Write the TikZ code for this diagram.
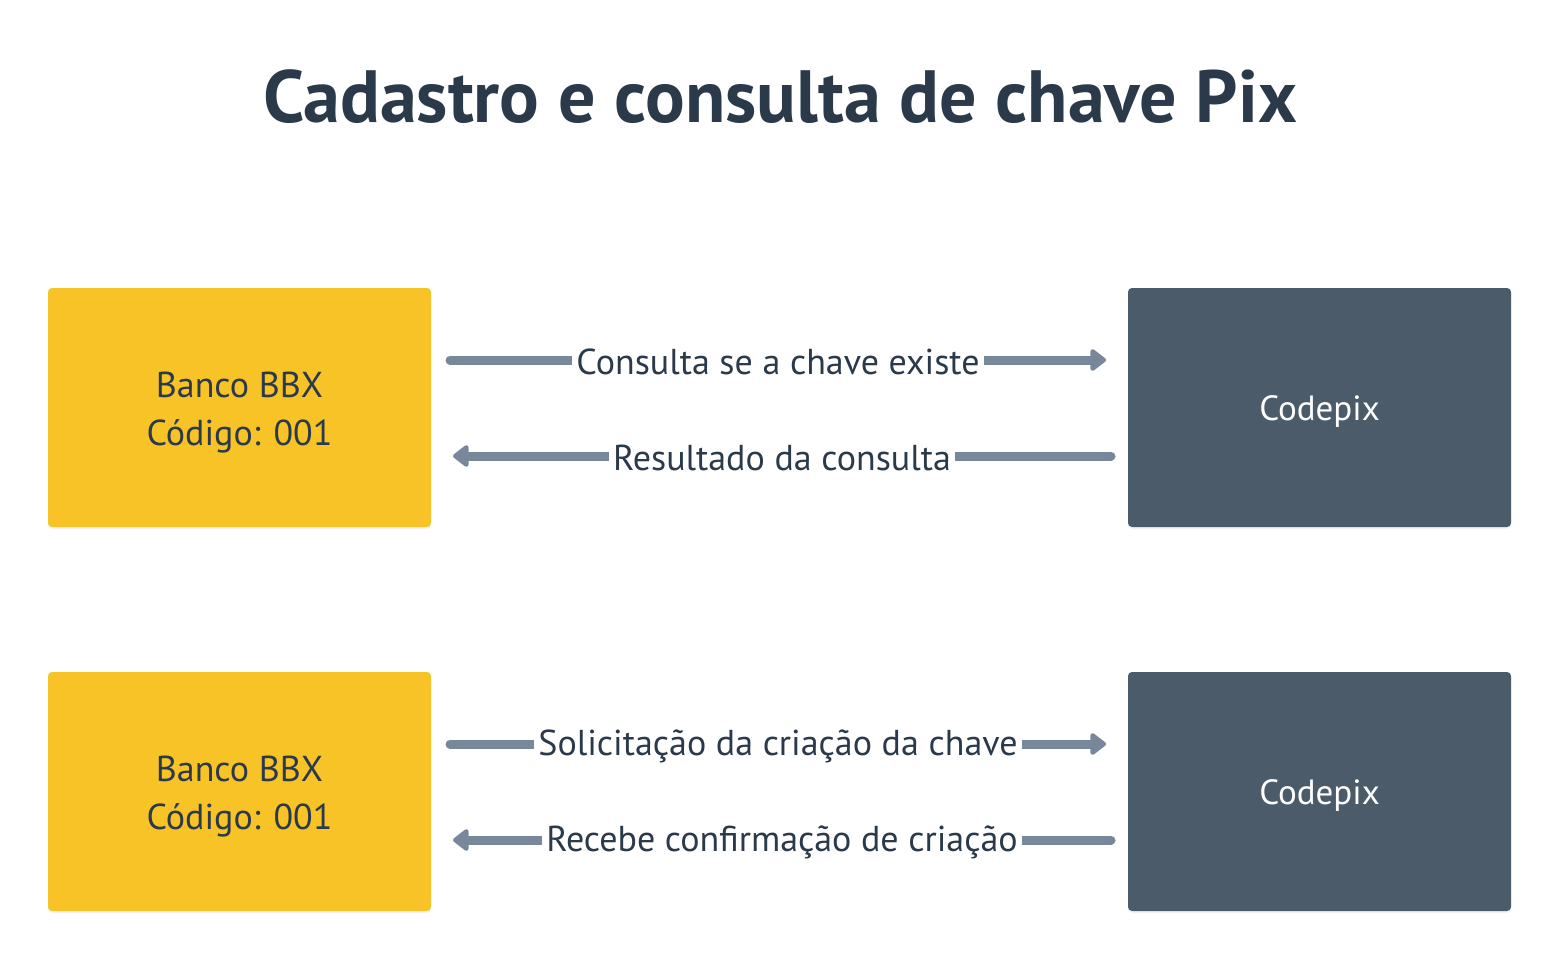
\documentclass[tikz,border=0pt]{standalone}
\usepackage{fontspec}
\setmainfont{PT Sans}
\usetikzlibrary{arrows.meta,shadows}
\definecolor{bankyellow}{HTML}{F8C326}
\definecolor{pixdark}{HTML}{4B5B6A}
\definecolor{arrowgray}{HTML}{77889A}
\definecolor{textdark}{HTML}{2B3A4A}
\tikzset{
  boxbase/.style={rounded corners=4pt, minimum width=383pt, minimum height=239pt, inner sep=0pt,
    drop shadow={opacity=0.10, shadow xshift=0pt, shadow yshift=-2pt}},
  bankbox/.style={boxbase, fill=bankyellow},
  pixbox/.style={boxbase, fill=pixdark},
  banktext/.style={text=textdark, font=\fontsize{36}{48}\selectfont, align=center, inner sep=0pt},
  pixtext/.style={text=white, font=\fontsize{35}{48}\selectfont, inner sep=0pt},
  conn/.style={draw=arrowgray, line width=9pt, line cap=round},
  fwd/.style={conn, -{Triangle[length=17pt,width=25pt,round]}},
  bwd/.style={conn, {Triangle[length=17pt,width=25pt,round]}-},
  lbl/.style={fill=white, inner xsep=4pt, inner ysep=2pt, text=textdark, font=\fontsize{36}{40}\selectfont, yshift=-2pt},
}
\begin{document}
\begin{tikzpicture}[x=1pt,y=-1pt]
\useasboundingbox[fill=white] (0,0) rectangle (1560,960);
\node[text=textdark, font=\bfseries\fontsize{74}{80}\selectfont] (title) at (780,97) {Cadastro e consulta de chave Pix};

\node[bankbox] (b1) at (239.5,407.5) {};
\node[banktext] (b1t) at (239.5,413) {Banco BBX\\Código: 001};
\node[pixbox] (p1) at (1319.5,407.5) {};
\node[pixtext] (p1t) at (1319.5,412) {Codepix};
\node[bankbox] (b2) at (239.5,791.5) {};
\node[banktext] (b2t) at (239.5,797) {Banco BBX\\Código: 001};
\node[pixbox] (p2) at (1319.5,791.5) {};
\node[pixtext] (p2t) at (1319.5,796) {Codepix};

\coordinate (a1s) at (450,360);
\coordinate (a1e) at (1106,360);
\coordinate (a2s) at (453,456);
\coordinate (a2e) at (1111,456);
\coordinate (a3s) at (450,744);
\coordinate (a3e) at (1106,744);
\coordinate (a4s) at (453,840);
\coordinate (a4e) at (1111,840);

\draw[fwd] (a1s) -- node[lbl] (l1) {Consulta se a chave existe} (a1e);
\draw[bwd] (a2s) -- node[lbl] (l2) {Resultado da consulta} (a2e);
\draw[fwd] (a3s) -- node[lbl] (l3) {Solicitação da criação da chave} (a3e);
\draw[bwd] (a4s) -- node[lbl] (l4) {Recebe confirmação de criação} (a4e);
\end{tikzpicture}
\end{document}
